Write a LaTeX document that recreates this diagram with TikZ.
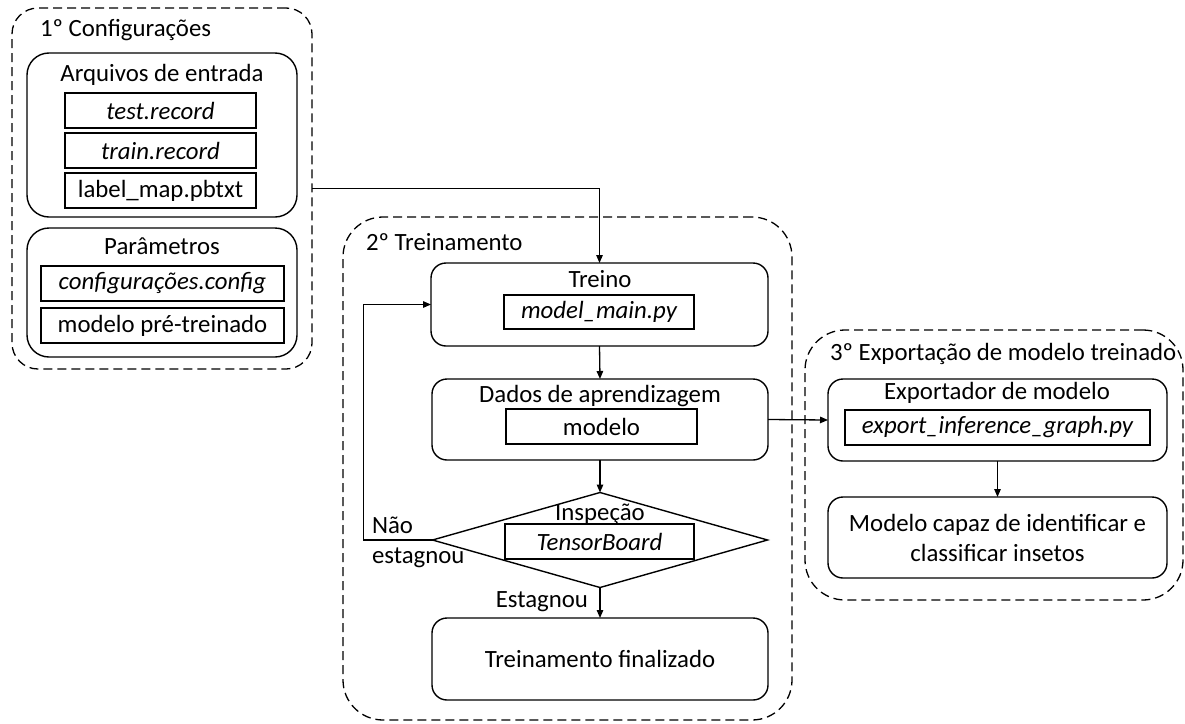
\documentclass[tikz,border=0pt]{standalone}
\usepackage{fontspec}
\setmainfont{Carlito}
\usetikzlibrary{shapes.geometric,arrows.meta}
\begin{document}
\begin{tikzpicture}[x=1pt,y=-1pt,
  every node/.style={font=\fontsize{24.8}{30}\selectfont, inner sep=0pt, outer sep=0pt},
  stage/.style={draw, line width=1.3pt, dash pattern=on 9pt off 5pt, rounded corners=#1},
  stage/.default=40pt,
  panel/.style={draw, line width=1.4pt, rounded corners=#1},
  panel/.default=15pt,
  filebox/.style={draw, line width=1.4pt, minimum height=35pt},
  flow/.style={-{Triangle[length=8pt,width=6.5pt]}, line width=1.3pt},
]
\useasboundingbox (0,0) rectangle (1185,723);

% ---- stage 1: configuration ----
\node[stage=26pt, minimum width=300pt, minimum height=361pt] (cfg) at (162,188.5) {};
\node[anchor=base west] (cfgtitle) at (40,36) {1º Configurações};

\node[panel=22pt, minimum width=270pt, minimum height=164pt] (inputs) at (162,135) {};
\node[anchor=base] (inputstitle) at (162,81) {Arquivos de entrada};
\node[filebox, minimum width=191pt] (testrec) at (160.5,110.5) {\itshape test.record};
\node[filebox, minimum width=191pt] (trainrec) at (160.5,150.5) {\itshape train.record};
\node[filebox, minimum width=191pt] (labelmap) at (160.5,190.5) {label\_map.pbtxt};

\node[panel=22pt, minimum width=270pt, minimum height=129pt] (params) at (162,292.5) {};
\node[anchor=base] (paramstitle) at (162,254) {Parâmetros};
\node[filebox, minimum width=243pt] (cfgfile) at (162.5,283.5) {\itshape configurações.config};
\node[filebox, minimum width=243pt] (pretrained) at (162.5,325.5) {modelo pré-treinado};

% ---- stage 2: training ----
\node[stage=40pt, minimum width=449pt, minimum height=503pt] (train) at (567.5,468.5) {};
\node[anchor=base west] (traintitle) at (366,250) {2º Treinamento};

\node[panel, minimum width=337pt, minimum height=83pt] (treino) at (599.5,304.5) {};
\node[anchor=base] (treinotitle) at (600,287) {Treino};
\node[filebox, minimum width=190pt, minimum height=34pt] (mainpy) at (599,312) {\itshape model\_main.py};

\node[panel, minimum width=336pt, minimum height=81pt] (dados) at (600,419.5) {};
\node[anchor=base] (dadostitle) at (600,402) {Dados de aprendizagem};
\node[filebox, minimum width=191pt] (modelo) at (601.5,426.5) {modelo};

\node[diamond, draw, line width=1.4pt, minimum width=335pt, minimum height=95pt] (insp) at (600,540) {};
\node[anchor=base] (insptitle) at (600,520) {Inspeção};
\node[filebox, minimum width=189pt] (tboard) at (599.5,541.5) {\itshape TensorBoard};

\node[panel, minimum width=336pt, minimum height=82pt] (final) at (600,659) {Treinamento finalizado};

\node[anchor=base west] (naolbl) at (372,533) {Não};
\node[anchor=base west] (estlbl) at (372,563) {estagnou};
\node[anchor=base east] (stoplbl) at (588,607) {Estagnou};

% ---- stage 3: export ----
\node[stage=40pt, minimum width=378pt, minimum height=270pt] (exp) at (994,465) {};
\node[anchor=base west] (exptitle) at (830,360) {3º Exportação de modelo treinado};

\node[panel, minimum width=339pt, minimum height=82pt] (exporter) at (997.5,420) {};
\node[anchor=base] (exportertitle) at (997,399) {Exportador de modelo};
\node[filebox, minimum width=305pt] (graphpy) at (997.5,427.5) {\itshape export\_inference\_graph.py\hspace{14pt}};

\node[panel, minimum width=339pt, minimum height=81pt, align=center] (result) at (997.5,537.5)
  {Modelo capaz de identificar e\\classificar insetos};

% ---- connectors ----
\draw[flow] (cfg.east) -| (treino.north);
\draw[flow] (treino.south) -- (dados.north);
\draw[flow] (dados.south) -- (insp.north);
\draw[flow] (insp.west) -- ++(-69,0) |- (treino.west);
\draw[flow] (insp.south) -- (final.north);
\draw[flow] (dados.east) -- (exporter.west);
\draw[flow] (exporter.south) -- (result.north);
\end{tikzpicture}
\end{document}
